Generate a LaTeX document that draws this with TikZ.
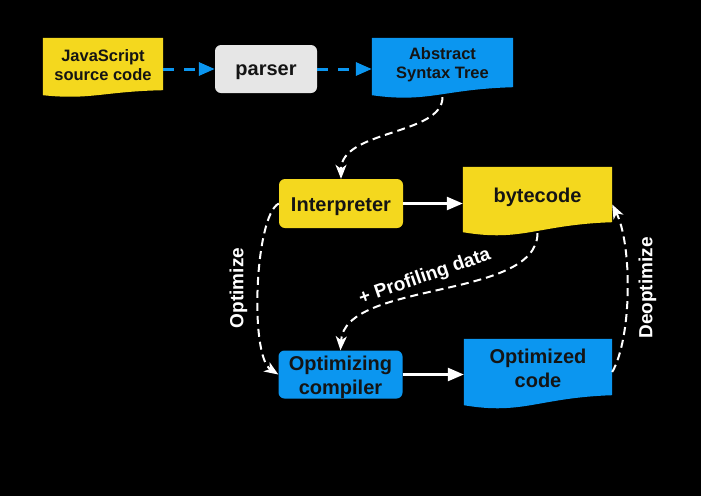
\documentclass[tikz,border=0pt]{standalone}
\usepackage{fontspec}
\setmainfont{Liberation Sans}
\usetikzlibrary{arrows.meta,calc}
\pgfdeclarelayer{back}
\pgfdeclarelayer{background}
\pgfsetlayers{back,background,main}
\definecolor{vyellow}{RGB}{244,216,30}
\definecolor{vblue}{RGB}{11,150,240}
\definecolor{vgray}{RGB}{230,230,230}
\definecolor{vtext}{RGB}{20,20,20}
\newcommand\docfill[3]{%
  \begin{pgfonlayer}{background}
  \fill[#2] (#1.north west) -- (#1.north east) -- (#1.south east)
    .. controls ($(#1.south east)!0.5!(#1.south west)+(0,0.25*#3)$)
    and ($(#1.south west)!0.4!(#1.south east)+(0,2*#3)$)
    .. ($(#1.south west)+(0,#3)$) -- cycle;
  \end{pgfonlayer}}
\tikzset{
  box/.style={inner sep=0pt},
  rbox/.style={box, rounded corners=6pt},
  txtfont/.style={inner sep=0pt, text=vtext, align=center, font=\bfseries\fontsize{20}{24}\selectfont},
  smallfont/.style={txtfont, font=\bfseries\fontsize{16.5}{19.5}\selectfont},
  lab/.style={label={[txtfont,yshift=-3pt]center:{#1}}},
  smalllab/.style={label={[smallfont,yshift=#1]center:{\csname lbltxt\endcsname}}},
  blueflow/.style={draw=vblue, line width=3pt, dash pattern=on 11pt off 10pt, -{Triangle[length=16pt,width=13pt]}},
  whiteflow/.style={draw=white, line width=2.5pt, -{Triangle[length=16pt,width=13pt]}},
  whitedash/.style={draw=white, line width=2pt, dash pattern=on 8pt off 5pt, -{Stealth[length=14pt,width=11pt,inset=4pt]}},
  lbl/.style={text=white, inner sep=0pt, font=\bfseries\fontsize{19}{22}\selectfont},
}
\begin{document}
\begin{tikzpicture}[x=1pt,y=-1pt]
\begin{pgfonlayer}{back}
\fill[black] (0,0) rectangle (701,496);
\end{pgfonlayer}
\useasboundingbox (0,0) rectangle (701,496);

\node[box, minimum width=120, minimum height=52, label={[smallfont,yshift=-1pt]center:{JavaScript\\source code}}] (js) at (103,64) {};
\docfill{js}{vyellow}{5}
\node[rbox, fill=vgray, minimum width=102, minimum height=48, lab={parser}] (parser) at (266,69) {};
\node[box, minimum width=141, minimum height=49, label={[smallfont,yshift=-2pt]center:{Abstract\\Syntax Tree}}] (ast) at (442.5,62.5) {};
\docfill{ast}{vblue}{8}

\node[rbox, fill=vyellow, minimum width=124, minimum height=49, lab={Interpreter}] (interp) at (341,203.5) {};
\node[box, minimum width=149, minimum height=55, lab={bytecode}] (bc) at (537.5,194.5) {};
\docfill{bc}{vyellow}{10}

\node[rbox, fill=vblue, minimum width=124, minimum height=48, lab={Optimizing\\compiler}] (optc) at (340.5,374.5) {};
\node[box, minimum width=148, minimum height=56, label={[txtfont,yshift=-1.5pt]center:{Optimized\\code}}] (optcode) at (538,367) {};
\docfill{optcode}{vblue}{10}

\draw[blueflow] (js.east |- parser.west) -- (parser.west);
\draw[blueflow] (parser.east) -- (ast.west |- parser.east);

\draw[whiteflow] (interp.east) -- (bc.west |- interp.east);
\draw[whiteflow] (optc.east) -- (optcode.west |- optc.east);

\draw[whitedash] ([yshift=-10pt]ast.south) .. controls +(0,38) and +(0,-49) .. (interp.north);
\draw[whitedash] ([yshift=-11pt]bc.south) .. controls +(-0.5,67) and +(4,-70) .. (optc.north);
\draw[whitedash] (interp.west) .. controls +(-24,12) and +(-29,-19) .. (optc.west);
\draw[whitedash] ([yshift=-5pt]optcode.east) .. controls +(20,-35) and +(20,40) .. ([yshift=-10pt]bc.east);

\node[lbl, rotate=90] (optlbl) at (238.5,288) {Optimize};
\node[lbl, rotate=90] (deoptlbl) at (647.5,288) {Deoptimize};
\node[lbl, rotate=19] (proflbl) at (425,277) {+ Profiling data};
\end{tikzpicture}
\end{document}
